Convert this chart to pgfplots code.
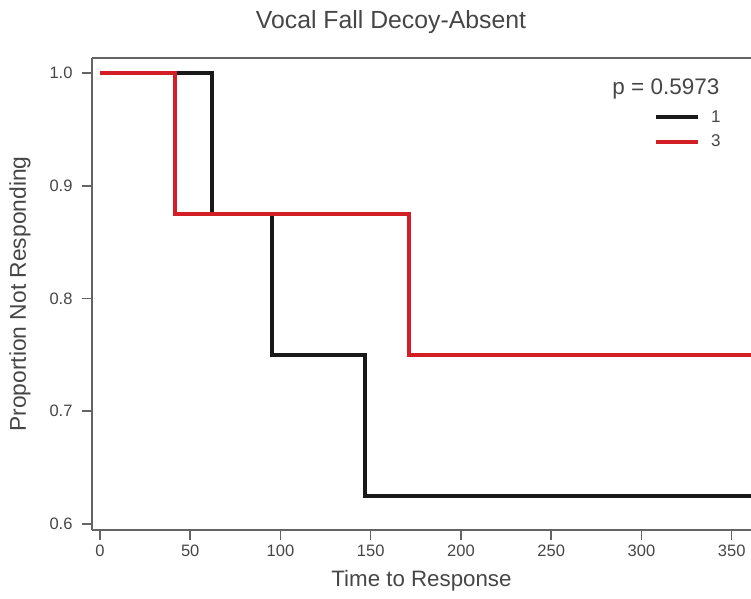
\documentclass[border=0pt]{standalone}
\usepackage{pgfplots}
\pgfplotsset{compat=1.18}
\usepackage{fontspec}
\setmainfont{Liberation Sans}
\definecolor{kmred}{RGB}{212,30,38}
\definecolor{txtgray}{RGB}{70,70,70}
\definecolor{axgray}{RGB}{100,100,100}
\begin{document}
\begin{tikzpicture}
\begin{axis}[
  scale only axis,
  width=659pt, height=472pt,
  xmin=-4.4, xmax=360.7,
  ymin=0.5947, ymax=1.0133,
  axis x line*=bottom, axis y line*=left,
  axis line style={draw=axgray, line width=2.2pt, -},
  xtick={0,50,100,150,200,250,300,350},
  ytick={0.6,0.7,0.8,0.9,1.0},
  yticklabel style={/pgf/number format/fixed, /pgf/number format/fixed zerofill, /pgf/number format/precision=1},
  /pgf/number format/assume math mode=true,
  tick align=outside,
  major tick length=10pt,
  tick style={draw=axgray, line width=1.6pt},
  x tick label style={font=\fontsize{16.5}{19}\selectfont, text=txtgray, yshift=-1pt},
  y tick label style={font=\fontsize{16.5}{19}\selectfont, text=txtgray, xshift=-6pt},
  title={Vocal Fall Decoy-Absent},
  title style={at={(axis description cs:0.4537,1)}, anchor=base, yshift=23pt, font=\fontsize{24.8}{29}\selectfont, text=txtgray},
  xlabel={Time to Response},
  xlabel style={at={(axis description cs:0.5,0)}, anchor=center, yshift=-51pt, font=\fontsize{22.3}{26}\selectfont, text=txtgray},
  ylabel={Proportion Not Responding},
  ylabel style={at={(axis description cs:0,0.5)}, anchor=center, yshift=72pt, font=\fontsize{22.8}{26}\selectfont, text=txtgray},
  legend style={at={(axis description cs:0.957,0.893)}, anchor=north east, draw=none, fill=none,
     font=\fontsize{17}{20}\selectfont, text=txtgray, row sep=7pt, column sep=9pt, inner sep=0pt},
  legend cell align=left,
  legend image code/.code={\draw[#1, line width=4pt] (0pt,0pt) -- (42pt,0pt);},
  clip=false,
]
\addplot[const plot, black!90, line width=4pt] coordinates {
  (0,1.0) (62,0.875) (95.3,0.75) (146.8,0.625) (360.7,0.625)
};
\addlegendentry{1}
\addplot[const plot, kmred, line width=4pt] coordinates {
  (0,1.0) (41.6,0.875) (171.2,0.75) (360.7,0.75)
};
\addlegendentry{3}
\draw[axgray, line width=2.2pt] (rel axis cs:0,1) -- (rel axis cs:1,1);
\node[anchor=base east, font=\fontsize{22.5}{26}\selectfont, text=txtgray] at (axis description cs:0.9575,0.9216) {p = 0.5973};
\coordinate (SW) at (rel axis cs:0,0);
\coordinate (NE) at (rel axis cs:1,1);
\end{axis}
\pgfresetboundingbox
\path ([shift={(-92pt,-69pt)}]SW) rectangle ([shift={(0pt,58pt)}]NE);
\end{tikzpicture}
\end{document}
